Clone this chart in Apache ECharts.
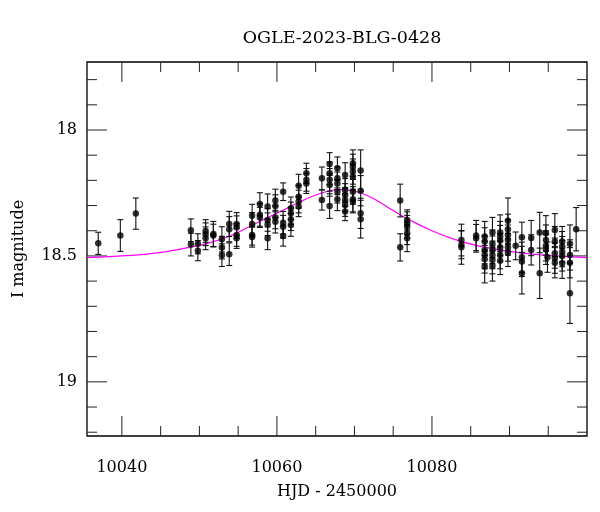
<!DOCTYPE html>
<html>
<head>
<meta charset="utf-8">
<script src="https://cdn.jsdelivr.net/npm/echarts@6/dist/echarts.min.js"></script>
<style>html,body{margin:0;padding:0;background:#fff}#c{width:600px;height:512px}</style>
</head>
<body>
<div id="c"></div>
<script>
// ---- data ----
const nightHJD = [10036.95, 10039.8, 10041.8, 10048.9, 10049.8, 10050.8, 10051.8, 10052.9, 10053.85, 10054.8,
  10056.8, 10057.8, 10058.8, 10059.8, 10060.8, 10061.8, 10062.8, 10063.8, 10065.8, 10066.8,
  10067.8, 10068.8, 10069.8, 10070.8, 10075.9, 10076.8, 10083.8, 10085.7, 10086.8, 10087.8,
  10088.8, 10089.8, 10090.8, 10091.6, 10092.8, 10093.9, 10094.7, 10094.9, 10095.85, 10096.8,
  10097.8, 10098.6];
const nightMag = [
  [18.450], [18.419], [18.332], [18.398, 18.455], [18.452, 18.479], [18.401, 18.414, 18.430], [18.413, 18.419],
  [18.434, 18.467, 18.497], [18.373, 18.394, 18.493], [18.373, 18.386, 18.417, 18.430],
  [18.340, 18.373, 18.417, 18.425], [18.294, 18.337, 18.347], [18.304, 18.357, 18.374, 18.430],
  [18.280, 18.302, 18.347, 18.364], [18.245, 18.368, 18.384, 18.421], [18.311, 18.331, 18.354, 18.377],
  [18.221, 18.265, 18.284, 18.304], [18.172, 18.198, 18.212], [18.192, 18.278],
  [18.135, 18.172, 18.198, 18.218, 18.302], [18.152, 18.192, 18.212, 18.245, 18.275],
  [18.179, 18.238, 18.258, 18.278, 18.298, 18.324], [18.132, 18.146, 18.165, 18.185, 18.245, 18.275, 18.284],
  [18.161, 18.241, 18.331, 18.354], [18.280, 18.466], [18.357, 18.370, 18.384, 18.410, 18.430],
  [18.437, 18.456, 18.466], [18.419, 18.430], [18.423, 18.443, 18.476, 18.496, 18.513, 18.542],
  [18.407, 18.452, 18.476, 18.496, 18.516, 18.540], [18.407, 18.423, 18.439, 18.466, 18.496, 18.519],
  [18.360, 18.394, 18.417, 18.437, 18.466, 18.487], [18.460], [18.426, 18.505, 18.522, 18.569],
  [18.429, 18.476], [18.407, 18.569], [18.410, 18.437, 18.460, 18.474], [18.505],
  [18.397, 18.443, 18.489, 18.509, 18.527], [18.443, 18.463, 18.483, 18.500, 18.529],
  [18.452, 18.496, 18.527, 18.648], [18.394]
];
const nightErr = [
  [0.044], [0.063], [0.062], [0.045, 0.045], [0.040, 0.040], [0.045, 0.045, 0.045], [0.050, 0.045],
  [0.050, 0.045, 0.045], [0.050, 0.050, 0.045], [0.045, 0.045, 0.045, 0.040],
  [0.045, 0.045, 0.040, 0.040], [0.045, 0.045, 0.040], [0.050, 0.045, 0.045, 0.045],
  [0.045, 0.045, 0.045, 0.045], [0.035, 0.045, 0.045, 0.040], [0.045, 0.045, 0.045, 0.045],
  [0.045, 0.045, 0.045, 0.040], [0.040, 0.045, 0.040], [0.045, 0.040],
  [0.045, 0.045, 0.045, 0.045, 0.049], [0.045, 0.045, 0.045, 0.045, 0.045],
  [0.049, 0.045, 0.045, 0.045, 0.045, 0.036], [0.053, 0.050, 0.050, 0.050, 0.050, 0.050, 0.045],
  [0.082, 0.060, 0.060, 0.075], [0.065, 0.054], [0.040, 0.045, 0.045, 0.045, 0.053],
  [0.063, 0.055, 0.067], [0.060, 0.055], [0.060, 0.055, 0.055, 0.055, 0.055, 0.065],
  [0.060, 0.055, 0.055, 0.055, 0.055, 0.060], [0.070, 0.060, 0.060, 0.055, 0.055, 0.055],
  [0.090, 0.060, 0.060, 0.060, 0.055, 0.055], [0.055], [0.060, 0.060, 0.060, 0.082],
  [0.070, 0.060], [0.080, 0.100], [0.070, 0.060, 0.060, 0.060], [0.060],
  [0.065, 0.060, 0.060, 0.060, 0.060], [0.060, 0.060, 0.060, 0.060, 0.060],
  [0.075, 0.060, 0.060, 0.120], [0.086]
];
// model curve
const modelHJD = [10035.5, 10040, 10044, 10048, 10051, 10054, 10057, 10060, 10063, 10065, 10067, 10068, 10069,
  10071, 10073, 10075, 10077, 10080, 10083, 10086, 10090, 10095, 10100];
const modelMag = [18.507, 18.500, 18.490, 18.470, 18.450, 18.420, 18.375, 18.330, 18.285, 18.258, 18.240, 18.236, 18.238,
  18.252, 18.282, 18.320, 18.355, 18.400, 18.435, 18.460, 18.482, 18.498, 18.507];
const xMajor = [10040, 10060, 10080];
const xMinor = [10045, 10050, 10055, 10065, 10070, 10075, 10085, 10090, 10095];
const yMajor = [18, 18.5, 19];
const yMinor = [17.8, 17.9, 18.1, 18.2, 18.3, 18.4, 18.6, 18.7, 18.8, 18.9, 19.1, 19.2];

// ---- build ----
const pts = [], bars = [];
nightHJD.forEach((t, i) => {
  nightMag[i].forEach((m, j) => {
    const e = nightErr[i][j];
    pts.push([t, m]);
    bars.push([t, m - e, m + e]);
  });
});
const model = modelHJD.map((t, i) => [t, modelMag[i]]);
const MAJ = 20, MIN = 10;
// tick items: [value, axis(0 = x, 1 = y), length]
const tickItems = []
  .concat(xMajor.map(v => [v, 0, MAJ]), xMinor.map(v => [v, 0, MIN]))
  .concat(yMajor.map(v => [v, 1, MAJ]), yMinor.map(v => [v, 1, MIN]));

const FONT = 'DejaVu Serif';
const XMIN = 10035.5, XMAX = 10100, YMIN = 17.73, YMAX = 19.215;

const chart = echarts.init(document.getElementById('c'), null, { renderer: 'canvas' });
chart.setOption({
  animation: false,
  backgroundColor: '#fff',
  title: {
    text: 'OGLE-2023-BLG-0428', left: 337, top: 24, textAlign: 'center',
    textStyle: { color: '#000', fontFamily: FONT, fontSize: 17.5, fontWeight: 'normal' }
  },
  grid: { left: 87, right: 13, top: 62, bottom: 76, containLabel: false,
    show: true, borderColor: '#000', borderWidth: 1.3, backgroundColor: 'transparent' },
  xAxis: {
    type: 'value', min: XMIN, max: XMAX,
    axisLine: { show: false },
    axisTick: { show: false },
    axisLabel: { show: true, customValues: xMajor, margin: 24, color: '#000', fontFamily: FONT, fontSize: 16,
      formatter: (v) => String(v) },
    splitLine: { show: false },
    name: 'HJD - 2450000', nameLocation: 'middle', nameGap: 48,
    nameTextStyle: { color: '#000', fontFamily: FONT, fontSize: 16 }
  },
  yAxis: {
    type: 'value', min: YMIN, max: YMAX, inverse: true,
    axisLine: { show: false },
    axisTick: { show: false },
    axisLabel: { show: true, customValues: yMajor, margin: 10, color: '#000', fontFamily: FONT, fontSize: 16,
      formatter: (v) => String(v) },
    splitLine: { show: false },
    name: 'I magnitude', nameLocation: 'middle', nameGap: 60, nameRotate: 90,
    nameTextStyle: { color: '#000', fontFamily: FONT, fontSize: 16 }
  },
  series: [
    {
      // axis ticks on all four sides, placed through the axis scales
      type: 'custom', data: tickItems, clip: false, z: 1, silent: true,
      encode: { x: 0 },
      renderItem: function (params, api) {
        const cs = params.coordSys;
        const v = api.value(0), kind = api.value(1), len = api.value(2);
        const st = { stroke: '#222', lineWidth: 1 };
        if (kind === 0) {
          const px = api.coord([v, YMIN])[0];
          return { type: 'group', children: [
            { type: 'line', shape: { x1: px, y1: cs.y + cs.height, x2: px, y2: cs.y + cs.height - len }, style: st },
            { type: 'line', shape: { x1: px, y1: cs.y, x2: px, y2: cs.y + len }, style: st }
          ] };
        }
        const py = api.coord([XMIN, v])[1];
        return { type: 'group', children: [
          { type: 'line', shape: { x1: cs.x, y1: py, x2: cs.x + len, y2: py }, style: st },
          { type: 'line', shape: { x1: cs.x + cs.width, y1: py, x2: cs.x + cs.width - len, y2: py }, style: st }
        ] };
      }
    },
    {
      type: 'line', data: model, smooth: true, symbol: 'none',
      lineStyle: { color: '#ff00ff', width: 1.2 }, z: 2
    },
    {
      type: 'custom', data: bars, clip: true, z: 3,
      encode: { x: 0, y: [1, 2] },
      renderItem: function (params, api) {
        const x = api.value(0);
        const a = api.coord([x, api.value(1)]);
        const b = api.coord([x, api.value(2)]);
        const hw = 3;
        const st = { stroke: '#111', lineWidth: 1.1 };
        return {
          type: 'group', children: [
            { type: 'line', shape: { x1: a[0], y1: a[1], x2: b[0], y2: b[1] }, style: st },
            { type: 'line', shape: { x1: a[0] - hw, y1: a[1], x2: a[0] + hw, y2: a[1] }, style: st },
            { type: 'line', shape: { x1: b[0] - hw, y1: b[1], x2: b[0] + hw, y2: b[1] }, style: st }
          ]
        };
      }
    },
    {
      type: 'scatter', data: pts, symbol: 'circle', symbolSize: 6.5,
      itemStyle: { color: '#000' }, z: 4
    }
  ]
});
</script>
</body>
</html>
